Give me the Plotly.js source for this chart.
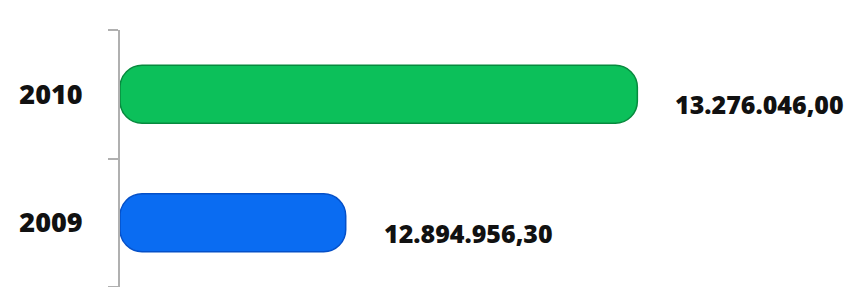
<!DOCTYPE html>
<html>
<head>
<meta charset="utf-8">
<script src="https://cdn.plot.ly/plotly-3.0.1.min.js"></script>
<style>html,body{margin:0;padding:0;background:#fff;}#chart{width:847px;height:287px;}</style>
</head>
<body>
<div id="chart"></div>
<script>
var years = ["2009", "2010"];
var values = [12894956.30, 13276046.00];
var axisStart = 12600000;
var barColors = ["#0A6CF2", "#0CC05A"];
var edgeColors = ["#0550C8", "#078A3E"];
var labelTexts = values.map(function (v) {
  var p = v.toFixed(2).split(".");
  return p[0].replace(/\B(?=(\d{3})+(?!\d))/g, ".") + "," + p[1];
});

var trace = {
  type: "bar",
  orientation: "h",
  y: years,
  x: values.map(function (v) { return v - axisStart; }),
  base: axisStart,
  width: 0.45,
  marker: { color: barColors, line: { color: edgeColors, width: 1.5 }, cornerradius: 22 },
  hoverinfo: "none"
};

var annotations = years.map(function (y, i) {
  return {
    x: values[i], y: i, xref: "x", yref: "y",
    text: labelTexts[i], showarrow: false,
    xanchor: "left", yanchor: "middle", xshift: 36, yshift: -10,
    font: { family: "Open Sans", size: 25, color: "#111", weight: 800 }
  };
});

var layout = {
  width: 847, height: 287,
  margin: { l: 120, r: 0, t: 30, b: 0 },
  paper_bgcolor: "#fff", plot_bgcolor: "#fff",
  showlegend: false,
  xaxis: { range: [12600000, 13550000], visible: false, fixedrange: true },
  yaxis: {
    type: "category", categoryorder: "array", categoryarray: years,
    range: [-0.5, 1.5], autorange: false,
    showline: true, linecolor: "#b0b0b0", linewidth: 2,
    ticks: "outside", ticklen: 10, tickcolor: "#b0b0b0", tickwidth: 2,
    tickson: "boundaries", ticklabelstandoff: 30,
    showgrid: false, zeroline: false,
    tickfont: { family: "Open Sans", size: 27, color: "#111", weight: 800 }
  },
  annotations: annotations
};

Plotly.newPlot("chart", [trace], layout, { staticPlot: true, displayModeBar: false });
</script>
</body>
</html>
